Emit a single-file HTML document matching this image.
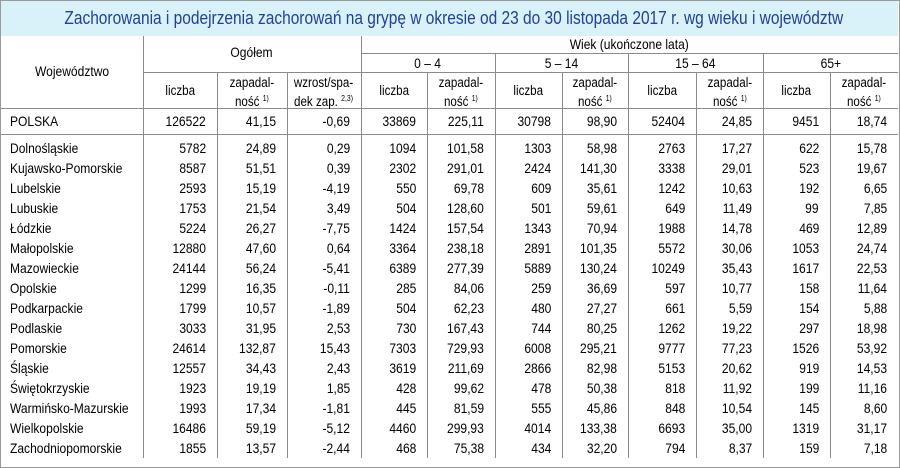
<!DOCTYPE html>
<html><head><meta charset="utf-8">
<style>
body{margin:0;width:900px;height:468px;background:#fff;overflow:hidden;font-family:"Liberation Sans",sans-serif;}
#frame{position:absolute;left:0;top:0;width:898px;height:466px;border:1px solid #9a9a9a;background:#fff;}
#title{position:absolute;left:1px;top:1px;width:897px;height:35px;background:#d9f1f8;color:#23409a;font-size:18px;line-height:35px;text-align:center;white-space:nowrap;}
#title span{display:inline-block;transform:scaleX(0.86);transform-origin:center;}
.t{position:absolute;font-size:13px;color:#000;white-space:nowrap;line-height:15px;}
.t span{display:inline-block;transform:scaleX(0.86);}
.h{position:absolute;background:#8a8a8a;height:1px;}
.v{position:absolute;background:#8a8a8a;width:1px;}
sup{font-size:8px;vertical-align:5px;}
</style></head><body>
<div id="frame"></div>
<div id="title"><span>Zachorowania i podejrzenia zachorowań na grypę w okresie od 23 do 30 listopada 2017 r. wg wieku i województw</span></div>
<div id="tbl"></div>
<script>
const regions=["Dolnośląskie","Kujawsko-Pomorskie","Lubelskie","Lubuskie","Łódzkie","Małopolskie","Mazowieckie","Opolskie","Podkarpackie","Podlaskie","Pomorskie","Śląskie","Świętokrzyskie","Warmińsko-Mazurskie","Wielkopolskie","Zachodniopomorskie"];
const polska=["126522","41,15","-0,69","33869","225,11","30798","98,90","52404","24,85","9451","18,74"];
const rows=[
["5782","24,89","0,29","1094","101,58","1303","58,98","2763","17,27","622","15,78"],
["8587","51,51","0,39","2302","291,01","2424","141,30","3338","29,01","523","19,67"],
["2593","15,19","-4,19","550","69,78","609","35,61","1242","10,63","192","6,65"],
["1753","21,54","3,49","504","128,60","501","59,61","649","11,49","99","7,85"],
["5224","26,27","-7,75","1424","157,54","1343","70,94","1988","14,78","469","12,89"],
["12880","47,60","0,64","3364","238,18","2891","101,35","5572","30,06","1053","24,74"],
["24144","56,24","-5,41","6389","277,39","5889","130,24","10249","35,43","1617","22,53"],
["1299","16,35","-0,11","285","84,06","259","36,69","597","10,77","158","11,64"],
["1799","10,57","-1,89","504","62,23","480","27,27","661","5,59","154","5,88"],
["3033","31,95","2,53","730","167,43","744","80,25","1262","19,22","297","18,98"],
["24614","132,87","15,43","7303","729,93","6008","295,21","9777","77,23","1526","53,92"],
["12557","34,43","2,43","3619","211,69","2866","82,98","5153","20,62","919","14,53"],
["1923","19,19","1,85","428","99,62","478","50,38","818","11,92","199","11,16"],
["1993","17,34","-1,81","445","81,59","555","45,86","848","10,54","145","8,60"],
["16486","59,19","-5,12","4460","299,93","4014","133,38","6693","35,00","1319","31,17"],
["1855","13,57","-2,44","468","75,38","434","32,20","794","8,37","159","7,18"]];
const ageGroups=["0 – 4","5 – 14","15 – 64","65+"];
const X=[2,143,217,287,361,427,495,562,628,696,763,830,898];
const T=document.getElementById('tbl');
function add(cls,css,html,name,origin){const d=document.createElement('div');d.className=cls;d.style.cssText=css;
if(html!==undefined&&html!==''){const s=document.createElement('span');s.innerHTML=html;s.style.transformOrigin=origin||'center';d.appendChild(s);}


T.appendChild(d);return d;}
add('h','left:361px;top:53px;width:537px;','', 'header-line-wiek');
add('h','left:143px;top:72px;width:755px;','', 'header-line-groups');
add('h','left:1px;top:108px;width:897px;','', 'header-bottom-line');
add('h','left:1px;top:134px;width:897px;','', 'polska-bottom-line');
add('v','left:143px;top:36px;height:422px;','', 'col-line');
add('v','left:361px;top:36px;height:422px;','', 'col-line');
for(const i of [2,3,5,7,9,11]){add('v',`left:${X[i]}px;top:72px;height:386px;`,'', 'col-line');}
for(const i of [6,8,10]){add('v',`left:${X[i]}px;top:53px;height:405px;`,'', 'group-line');}
add('t','left:2px;width:141px;top:64px;text-align:center;font-size:14px;','Województwo','header-wojewodztwo');
add('t','left:143px;width:218px;top:45px;text-align:center;font-size:14px;','Ogółem','header-ogolem');
add('t','left:361px;width:537px;top:37px;text-align:center;font-size:14px;','Wiek (ukończone lata)','header-wiek');
ageGroups.forEach((g,k)=>{add('t',`left:${X[4+2*k]}px;width:${X[6+2*k]-X[4+2*k]}px;top:56px;text-align:center;font-size:14px;`,g,'header-age-group');});
for(let c=1;c<12;c++){
  let html,top;
  if(c===3){html='wzrost/spa-<br>dek zap. <sup>2,3)</sup>';top=75;}
  else if(c===1||(c>=4&&c%2===0)){html='liczba';top=83;}
  else {html='zapadal-<br>ność <sup>1)</sup>';top=75;}
  add('t',`left:${X[c]}px;width:${X[c+1]-X[c]}px;top:${top}px;text-align:center;line-height:16px;font-size:13.5px;`,html,'header-subcolumn');
}
function rowTexts(label,vals,y,name){
  add('t',`left:10px;top:${y}px;font-size:14px;`,label,name+'-label','left');
  vals.forEach((v,i)=>{add('t',`left:${X[i+1]}px;width:${X[i+2]-X[i+1]-11}px;top:${y}px;text-align:right;font-size:14px;`,v,name+'-value','right');});
}
rowTexts('POLSKA',polska,114,'row-polska');
rows.forEach((r,i)=>rowTexts(regions[i],r,141+i*20,'row-region'));
</script>
</body></html>
